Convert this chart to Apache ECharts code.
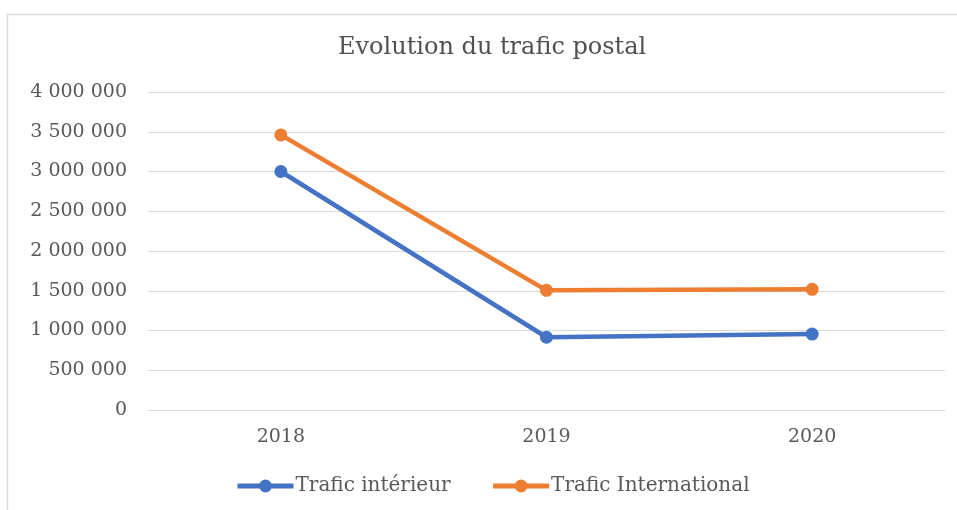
<!DOCTYPE html>
<html><head><meta charset="utf-8">
<script src="https://cdn.jsdelivr.net/npm/echarts@6/dist/echarts.min.js"></script>
<style>html,body{margin:0;padding:0;background:#fff}#c{width:957px;height:510px}</style>
</head><body><div id="c"></div>
<script>
const categories = ['2018', '2019', '2020'];
const traficInterieur = [3000000, 915000, 955000];
const traficInternational = [3460000, 1505000, 1518000];
const yTicks = [0, 500000, 1000000, 1500000, 2000000, 2500000, 3000000, 3500000, 4000000];

const serif = '"DejaVu Serif", "Liberation Serif", serif';
function fmt(v){ return String(v).replace(/\B(?=(\d{3})+(?!\d))/g, ' '); }

const chart = echarts.init(document.getElementById('c'));
chart.setOption({
  animation: false,
  backgroundColor: '#fff',
  graphic: [{type:'rect', shape:{x:7.5, y:14.5, width:960, height:520}, style:{fill:'none', stroke:'#d9d9d9', lineWidth:1.5}, silent:true}],
  title: {text:'Evolution du trafic postal', left:333, top:31, textStyle:{fontFamily:serif, fontSize:24, fontWeight:'normal', color:'#505050'}},
  grid: {left:148, right:12, top:92, bottom:100, containLabel:false},
  legend: {bottom:9, left:230, itemWidth:56, itemHeight:16, itemGap:40,
    lineStyle:{width:5},
    textStyle:{fontFamily:serif, fontSize:20, color:'#595959', padding:[0,0,0,-3]},
    data:['Trafic intérieur','Trafic International']},
  xAxis: {type:'category', data:categories, boundaryGap:true,
    axisLine:{lineStyle:{color:'#d9d9d9', width:1}}, axisTick:{show:false},
    axisLabel:{fontFamily:serif, fontSize:19, color:'#595959', margin:18}},
  yAxis: {type:'value', min:yTicks[0], max:yTicks[yTicks.length-1], interval:yTicks[1]-yTicks[0],
    axisLine:{show:false}, axisTick:{show:false},
    splitLine:{lineStyle:{color:'#d9d9d9', width:1}},
    axisLabel:{fontFamily:serif, fontSize:19, color:'#595959', margin:21, formatter:fmt}},
  series: [
    {name:'Trafic intérieur', type:'line', data:traficInterieur, symbol:'circle', symbolSize:13,
      lineStyle:{width:4.5, color:'#4472C4'}, itemStyle:{color:'#4472C4'}},
    {name:'Trafic International', type:'line', data:traficInternational, symbol:'circle', symbolSize:13,
      lineStyle:{width:4.5, color:'#ED7D31'}, itemStyle:{color:'#ED7D31'}}
  ]
});
</script></body></html>
